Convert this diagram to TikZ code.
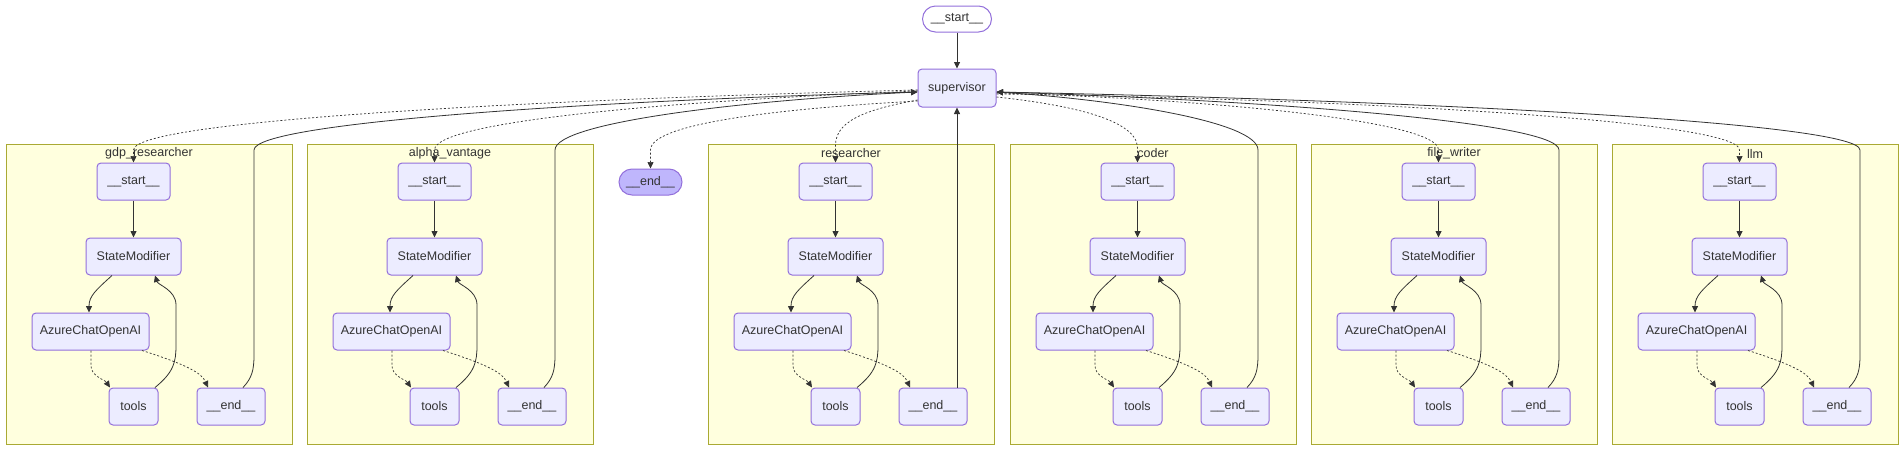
\documentclass[tikz,border=0pt]{standalone}
\usepackage{fontspec}
\setmainfont{Liberation Sans}
\usetikzlibrary{arrows.meta}
\definecolor{nodefill}{HTML}{ECECFF}
\definecolor{nodeline}{HTML}{9370DB}
\definecolor{clfill}{HTML}{FFFFDE}
\definecolor{clline}{HTML}{AAAA33}
\definecolor{edgecol}{HTML}{333333}
\definecolor{endfill}{HTML}{BFB6FC}
\tikzset{
  box/.style={draw=nodeline, fill=nodefill, line width=1pt, rounded corners=4pt,
    minimum height=37pt, inner sep=0pt, text=edgecol, font=\fontsize{12.5}{15}\selectfont},
  pill/.style={box, rounded corners=13pt, minimum height=26pt},
  cluster/.style={draw=clline, fill=clfill, line width=1pt, inner sep=0pt,
    minimum width=286pt, minimum height=300pt, anchor=north west},
  cltext/.style={text=edgecol, inner sep=0pt, font=\fontsize{12.5}{15}\selectfont},
  edge/.style={draw=edgecol, line width=0.8pt, -{Triangle[length=6.5pt,width=6pt]}},
  dotedge/.style={edge, line width=0.7pt, dash pattern=on 2pt off 2pt},
}
\newcommand\subgraphbox[3]{%
  \node[cluster] (#1box) at (#2,144) {};
  \node[cltext] (#1lbl) at ({#2+143},153.5) {#3};
  \node[box, minimum width=73pt] (#1start) at ({#2+127.5},181.5) {\_\_start\_\_};
  \node[box, minimum width=95pt] (#1sm) at ({#2+127.5},256.5) {StateModifier};
  \node[box, minimum width=117pt] (#1az) at ({#2+84.5},331.5) {AzureChatOpenAI};
  \node[box, minimum width=49pt] (#1tools) at ({#2+127.5},406.5) {tools};
  \node[box, minimum width=68pt] (#1end) at ({#2+225},406.5) {\_\_end\_\_};
}
\begin{document}
\begin{tikzpicture}[x=1pt,y=-1pt]
\fill[white] (0,0) rectangle (1904,450);
\useasboundingbox (0,0) rectangle (1904,450);

\subgraphbox{c1}{6}{gdp\_researcher}
\subgraphbox{c2}{307}{alpha\_vantage}
\subgraphbox{c3}{708}{researcher}
\subgraphbox{c4}{1010}{coder}
\subgraphbox{c5}{1311}{file\_writer}
\subgraphbox{c6}{1612}{llm}

\node[pill, minimum width=69pt, fill=white] (top) at (957,19) {\_\_start\_\_};
\node[box, minimum width=78pt, minimum height=38pt] (sup) at (957,88) {supervisor};
\node[pill, minimum width=63pt, fill=endfill] (fin) at (650.5,182) {\_\_end\_\_};

% internal edges
\foreach \cp/\lx in {c1/6,c2/307,c3/708,c4/1010,c5/1311,c6/1612}{
  \draw[edge] (\cp start) -- (\cp sm);
  \draw[edge] ([xshift=-21.5pt]\cp sm.south) .. controls ({\lx+90},290) and ({\lx+83},296) .. ([xshift=-1.5pt]\cp az.north);
  \draw[edge] ([xshift=21.5pt]\cp tools.north) .. controls ({\lx+168},372) and ({\lx+170},362) .. ({\lx+170},345) -- ({\lx+170},305) .. controls ({\lx+170},290) and ({\lx+152},285) .. ([xshift=21.5pt]\cp sm.south);
  \draw[dotedge] ([xshift=0.5pt]\cp az.south) -- ({\lx+85},366) .. controls ({\lx+85},376) and ({\lx+99},380) .. ([xshift=-23.5pt]\cp tools.north);
  \draw[dotedge] ([xshift=51.5pt]\cp az.south) .. controls ({\lx+185},366) and ({\lx+196},374) .. ([xshift=-23pt]\cp end.north);
}

% top-level edges
\draw[edge] (top) -- (sup);
\draw[dotedge] ([yshift=-13pt]sup.west) .. controls (792,108) and (650.5,122) .. (650.5,150) -- (fin.north);

% left clusters
\draw[dotedge] ([yshift=-2pt]sup.west) .. controls (549,99) and (133.5,120) .. (133.5,150) -- (c1start.north);
\draw[edge] ([xshift=12pt]c1end.north) .. controls (252,378) and (254,370) .. (254,355) -- (254,150) .. controls (254,122) and (606,100) .. ([yshift=-4pt]sup.west);
\draw[dotedge] ([yshift=-3pt]sup.west) .. controls (691,100) and (434.5,120) .. (434.5,150) -- (c2start.north);
\draw[edge] ([xshift=12pt]c2end.north) .. controls (553,378) and (555,370) .. (555,355) -- (555,150) .. controls (555,122) and (747,100) .. ([yshift=-4pt]sup.west);

% researcher
\draw[dotedge] ([yshift=-12pt]sup.west) .. controls (875,108) and (835.5,118) .. (835.5,145) -- (c3start.north);
\draw[edge] ([xshift=24pt]c3end.north) -- (sup.south);

% right clusters
\draw[dotedge] ([yshift=-9pt]sup.east) .. controls (1062,104) and (1137.5,118) .. (1137.5,148) -- (c4start.north);
\draw[edge] ([xshift=12pt]c4end.north) .. controls (1256,378) and (1258,370) .. (1258,355) -- (1258,150) .. controls (1258,122) and (1119,100) .. ([yshift=-4pt]sup.east);
\draw[dotedge] ([yshift=-5pt]sup.east) .. controls (1204,99) and (1438.5,120) .. (1438.5,150) -- (c5start.north);
\draw[edge] ([xshift=12pt]c5end.north) .. controls (1557,378) and (1559,370) .. (1559,355) -- (1559,150) .. controls (1559,122) and (1261,100) .. ([yshift=-4pt]sup.east);
\draw[dotedge] ([yshift=-6pt]sup.east) .. controls (1345,99) and (1739.5,120) .. (1739.5,150) -- (c6start.north);
\draw[edge] ([xshift=12pt]c6end.north) .. controls (1858,378) and (1860,370) .. (1860,355) -- (1860,150) .. controls (1860,122) and (1402,100) .. ([yshift=-4pt]sup.east);
\end{tikzpicture}
\end{document}
